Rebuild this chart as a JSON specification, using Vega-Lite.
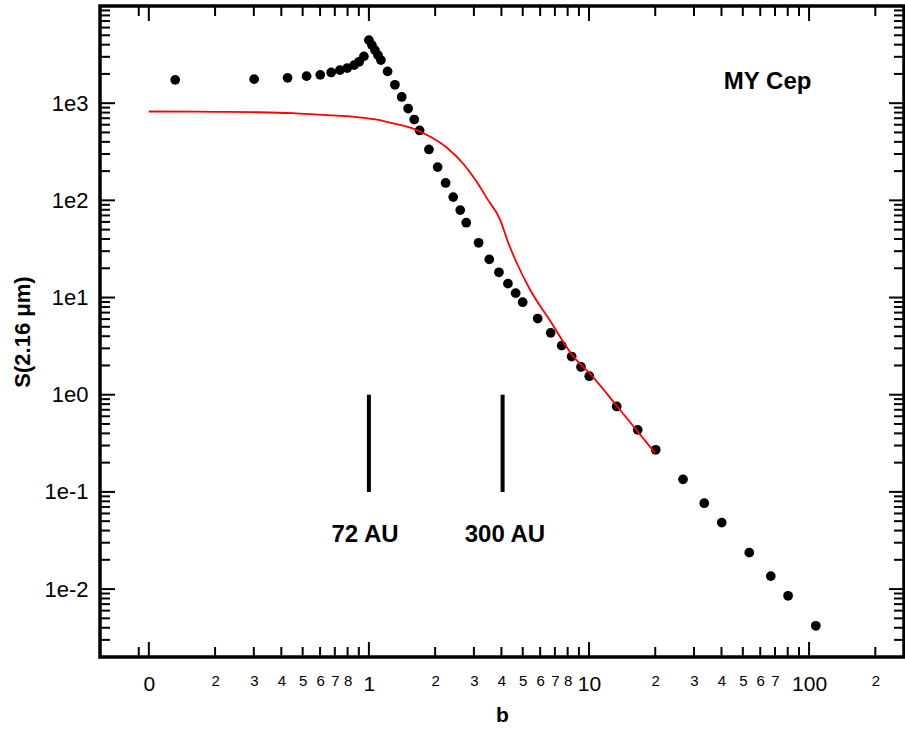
{
  "$schema": "https://vega.github.io/schema/vega-lite/v6.json",
  "autosize": "none",
  "width": 804,
  "height": 651,
  "padding": {"left": 100, "top": 6, "right": 1, "bottom": 77},
  "config": {
    "font": "Liberation Sans",
    "view": {"stroke": "black", "strokeWidth": 3.5},
    "axis": {"grid": false, "domain": false, "labelColor": "black", "titleColor": "black", "labelFont": "Liberation Sans", "titleFont": "Liberation Sans", "labelFlush": false, "labelOverlap": false}
  },
  "datasets": {
    "pts": [
      {"b": 0.1318, "S": 1738}, {"b": 0.301, "S": 1766}, {"b": 0.427, "S": 1823}, {"b": 0.521, "S": 1897},
      {"b": 0.601, "S": 1958}, {"b": 0.674, "S": 2072}, {"b": 0.738, "S": 2187}, {"b": 0.797, "S": 2295},
      {"b": 0.857, "S": 2466}, {"b": 0.903, "S": 2667}, {"b": 0.949, "S": 3030}, {"b": 1.0, "S": 4454},
      {"b": 1.032, "S": 3960}, {"b": 1.065, "S": 3517}, {"b": 1.099, "S": 3126}, {"b": 1.134, "S": 2775},
      {"b": 1.216, "S": 2123}, {"b": 1.313, "S": 1545}, {"b": 1.409, "S": 1159}, {"b": 1.507, "S": 881},
      {"b": 1.607, "S": 679}, {"b": 1.7, "S": 524}, {"b": 1.874, "S": 334}, {"b": 2.053, "S": 220},
      {"b": 2.232, "S": 151}, {"b": 2.416, "S": 108}, {"b": 2.6, "S": 79.4}, {"b": 2.769, "S": 58.9},
      {"b": 3.152, "S": 36.6}, {"b": 3.523, "S": 24.7}, {"b": 3.898, "S": 18.2}, {"b": 4.283, "S": 13.9},
      {"b": 4.643, "S": 11.1}, {"b": 4.996, "S": 8.95}, {"b": 5.846, "S": 6.08}, {"b": 6.697, "S": 4.33},
      {"b": 7.515, "S": 3.2}, {"b": 8.34, "S": 2.47}, {"b": 9.2, "S": 1.93}, {"b": 10.03, "S": 1.55},
      {"b": 13.36, "S": 0.757}, {"b": 16.65, "S": 0.435}, {"b": 20.1, "S": 0.271}, {"b": 26.75, "S": 0.1346},
      {"b": 33.4, "S": 0.0765}, {"b": 40.1, "S": 0.0483}, {"b": 53.5, "S": 0.0237}, {"b": 67.0, "S": 0.0136},
      {"b": 80.3, "S": 0.00853}, {"b": 107.3, "S": 0.00419}
    ],
    "curve": [
      {"b": 0.1, "S": 821}, {"b": 0.2, "S": 815}, {"b": 0.309, "S": 807}, {"b": 0.45, "S": 789},
      {"b": 0.62, "S": 757}, {"b": 0.8, "S": 735}, {"b": 0.976, "S": 700}, {"b": 1.122, "S": 668},
      {"b": 1.246, "S": 630}, {"b": 1.59, "S": 548}, {"b": 1.894, "S": 454}, {"b": 2.255, "S": 350},
      {"b": 2.684, "S": 238}, {"b": 2.95, "S": 180}, {"b": 3.196, "S": 138}, {"b": 3.428, "S": 106},
      {"b": 3.94, "S": 63.7}, {"b": 4.297, "S": 36.6}, {"b": 4.692, "S": 22.8},
      {"b": 5.393, "S": 12.1}, {"b": 6.647, "S": 5.79}, {"b": 8.484, "S": 2.48}, {"b": 10.1, "S": 1.646},
      {"b": 13.83, "S": 0.7}, {"b": 19.95, "S": 0.252}
    ],
    "bars": [
      {"b": 1.0, "lo": 0.1, "hi": 1.0},
      {"b": 4.05, "lo": 0.1, "hi": 1.0}
    ],
    "labels": [
      {"b": 0.96, "S": 0.036, "t": "72 AU"},
      {"b": 4.15, "S": 0.036, "t": "300 AU"},
      {"b": 64.8, "S": 1645, "t": "MY Cep"}
    ],
    "xmaj": [{"v": 0.1}, {"v": 1}, {"v": 10}, {"v": 100}],
    "xmin": [
      {"v": 0.09}, {"v": 0.2}, {"v": 0.3}, {"v": 0.4}, {"v": 0.5}, {"v": 0.6}, {"v": 0.7}, {"v": 0.8}, {"v": 0.9},
      {"v": 2}, {"v": 3}, {"v": 4}, {"v": 5}, {"v": 6}, {"v": 7}, {"v": 8}, {"v": 9},
      {"v": 20}, {"v": 30}, {"v": 40}, {"v": 50}, {"v": 60}, {"v": 70}, {"v": 80}, {"v": 90}, {"v": 200}
    ],
    "ymaj": [{"v": 0.01}, {"v": 0.1}, {"v": 1}, {"v": 10}, {"v": 100}, {"v": 1000}],
    "ymin": [
      {"v": 0.003}, {"v": 0.004}, {"v": 0.005}, {"v": 0.006}, {"v": 0.007}, {"v": 0.008}, {"v": 0.009},
      {"v": 0.02}, {"v": 0.03}, {"v": 0.04}, {"v": 0.05}, {"v": 0.06}, {"v": 0.07}, {"v": 0.08}, {"v": 0.09},
      {"v": 0.2}, {"v": 0.3}, {"v": 0.4}, {"v": 0.5}, {"v": 0.6}, {"v": 0.7}, {"v": 0.8}, {"v": 0.9},
      {"v": 2}, {"v": 3}, {"v": 4}, {"v": 5}, {"v": 6}, {"v": 7}, {"v": 8}, {"v": 9},
      {"v": 20}, {"v": 30}, {"v": 40}, {"v": 50}, {"v": 60}, {"v": 70}, {"v": 80}, {"v": 90},
      {"v": 200}, {"v": 300}, {"v": 400}, {"v": 500}, {"v": 600}, {"v": 700}, {"v": 800}, {"v": 900},
      {"v": 2000}, {"v": 3000}, {"v": 4000}, {"v": 5000}, {"v": 6000}, {"v": 7000}, {"v": 8000}, {"v": 9000}
    ]
  },
  "layer": [
    {
      "data": {"name": "pts"},
      "mark": {"type": "circle", "size": 95, "color": "black", "opacity": 1},
      "encoding": {
        "x": {
          "field": "b", "type": "quantitative",
          "scale": {"type": "log", "domain": [0.06, 270], "nice": false},
          "axis": {
            "orient": "bottom", "title": "b", "titleFontSize": 21, "titleFontWeight": "bold",
            "titleY": 64, "titleBaseline": "alphabetic", "ticks": false,
            "values": [0.1, 0.2, 0.3, 0.4, 0.5, 0.6, 0.7, 0.8, 1, 2, 3, 4, 5, 6, 7, 8, 10, 20, 30, 40, 50, 60, 70, 100, 200],
            "labelExpr": "abs(log(datum.value)/LN10 - round(log(datum.value)/LN10)) < 0.001 ? (datum.value < 0.5 ? '0' : format(datum.value, 'd')) : '' + round(datum.value/pow(10, floor(log(datum.value)/LN10 + 1e-9)))",
            "labelBaseline": "top", "labelPadding": 16,
            "labelFontSize": {"condition": {"test": "abs(log(datum.value)/LN10 - round(log(datum.value)/LN10)) < 0.001", "value": 21}, "value": 15}
          }
        },
        "y": {
          "field": "S", "type": "quantitative",
          "scale": {"type": "log", "domain": [0.002, 10000], "nice": false},
          "axis": {
            "orient": "left", "title": "S(2.16 μm)", "titleFontSize": 22, "titleFontWeight": "bold",
            "titleX": -78, "titleBaseline": "middle", "titleAngle": -90, "ticks": false,
            "values": [0.01, 0.1, 1, 10, 100, 1000],
            "labelExpr": "'1e' + round(log(datum.value)/LN10)",
            "labelFontSize": 22, "labelBaseline": "middle", "labelPadding": 12
          }
        }
      }
    },
    {
      "data": {"name": "curve"},
      "mark": {"type": "line", "color": "#ff0000", "strokeWidth": 1.8, "interpolate": "monotone"},
      "encoding": {
        "x": {"field": "b", "type": "quantitative", "scale": {"type": "log", "domain": [0.06, 270], "nice": false}, "axis": null},
        "y": {"field": "S", "type": "quantitative", "scale": {"type": "log", "domain": [0.002, 10000], "nice": false}, "axis": null}
      }
    },
    {
      "data": {"name": "bars"},
      "mark": {"type": "rule", "color": "black", "strokeWidth": 4},
      "encoding": {
        "x": {"field": "b", "type": "quantitative", "scale": {"type": "log", "domain": [0.06, 270], "nice": false}, "axis": null},
        "y": {"field": "lo", "type": "quantitative", "scale": {"type": "log", "domain": [0.002, 10000], "nice": false}, "axis": null},
        "y2": {"field": "hi"}
      }
    },
    {
      "data": {"name": "labels"},
      "mark": {"type": "text", "font": "Liberation Sans", "fontSize": 24, "fontWeight": "bold", "color": "black", "align": "center", "baseline": "middle"},
      "encoding": {
        "x": {"field": "b", "type": "quantitative", "scale": {"type": "log", "domain": [0.06, 270], "nice": false}, "axis": null},
        "y": {"field": "S", "type": "quantitative", "scale": {"type": "log", "domain": [0.002, 10000], "nice": false}, "axis": null},
        "text": {"field": "t"}
      }
    },
    {
      "data": {"name": "xmaj"},
      "mark": {"type": "tick", "orient": "vertical", "size": 30, "thickness": 2, "color": "black", "opacity": 1, "clip": true},
      "encoding": {
        "x": {"field": "v", "type": "quantitative", "scale": {"type": "log", "domain": [0.06, 270], "nice": false}, "axis": null},
        "y": {"datum": 0.002, "type": "quantitative", "scale": {"type": "log", "domain": [0.002, 10000], "nice": false}, "axis": null}
      }
    },
    {
      "data": {"name": "xmaj"},
      "mark": {"type": "tick", "orient": "vertical", "size": 30, "thickness": 2, "color": "black", "opacity": 1, "clip": true},
      "encoding": {
        "x": {"field": "v", "type": "quantitative", "scale": {"type": "log", "domain": [0.06, 270], "nice": false}, "axis": null},
        "y": {"datum": 10000, "type": "quantitative", "scale": {"type": "log", "domain": [0.002, 10000], "nice": false}, "axis": null}
      }
    },
    {
      "data": {"name": "xmin"},
      "mark": {"type": "tick", "orient": "vertical", "size": 20, "thickness": 2, "color": "black", "opacity": 1, "clip": true},
      "encoding": {
        "x": {"field": "v", "type": "quantitative", "scale": {"type": "log", "domain": [0.06, 270], "nice": false}, "axis": null},
        "y": {"datum": 0.002, "type": "quantitative", "scale": {"type": "log", "domain": [0.002, 10000], "nice": false}, "axis": null}
      }
    },
    {
      "data": {"name": "xmin"},
      "mark": {"type": "tick", "orient": "vertical", "size": 20, "thickness": 2, "color": "black", "opacity": 1, "clip": true},
      "encoding": {
        "x": {"field": "v", "type": "quantitative", "scale": {"type": "log", "domain": [0.06, 270], "nice": false}, "axis": null},
        "y": {"datum": 10000, "type": "quantitative", "scale": {"type": "log", "domain": [0.002, 10000], "nice": false}, "axis": null}
      }
    },
    {
      "data": {"name": "ymaj"},
      "mark": {"type": "tick", "orient": "horizontal", "size": 30, "thickness": 2, "color": "black", "opacity": 1, "clip": true},
      "encoding": {
        "y": {"field": "v", "type": "quantitative", "scale": {"type": "log", "domain": [0.002, 10000], "nice": false}, "axis": null},
        "x": {"datum": 0.06, "type": "quantitative", "scale": {"type": "log", "domain": [0.06, 270], "nice": false}, "axis": null}
      }
    },
    {
      "data": {"name": "ymaj"},
      "mark": {"type": "tick", "orient": "horizontal", "size": 30, "thickness": 2, "color": "black", "opacity": 1, "clip": true},
      "encoding": {
        "y": {"field": "v", "type": "quantitative", "scale": {"type": "log", "domain": [0.002, 10000], "nice": false}, "axis": null},
        "x": {"datum": 270, "type": "quantitative", "scale": {"type": "log", "domain": [0.06, 270], "nice": false}, "axis": null}
      }
    },
    {
      "data": {"name": "ymin"},
      "mark": {"type": "tick", "orient": "horizontal", "size": 20, "thickness": 2, "color": "black", "opacity": 1, "clip": true},
      "encoding": {
        "y": {"field": "v", "type": "quantitative", "scale": {"type": "log", "domain": [0.002, 10000], "nice": false}, "axis": null},
        "x": {"datum": 0.06, "type": "quantitative", "scale": {"type": "log", "domain": [0.06, 270], "nice": false}, "axis": null}
      }
    },
    {
      "data": {"name": "ymin"},
      "mark": {"type": "tick", "orient": "horizontal", "size": 20, "thickness": 2, "color": "black", "opacity": 1, "clip": true},
      "encoding": {
        "y": {"field": "v", "type": "quantitative", "scale": {"type": "log", "domain": [0.002, 10000], "nice": false}, "axis": null},
        "x": {"datum": 270, "type": "quantitative", "scale": {"type": "log", "domain": [0.06, 270], "nice": false}, "axis": null}
      }
    }
  ],
  "resolve": {"axis": {"x": "independent", "y": "independent"}}
}
